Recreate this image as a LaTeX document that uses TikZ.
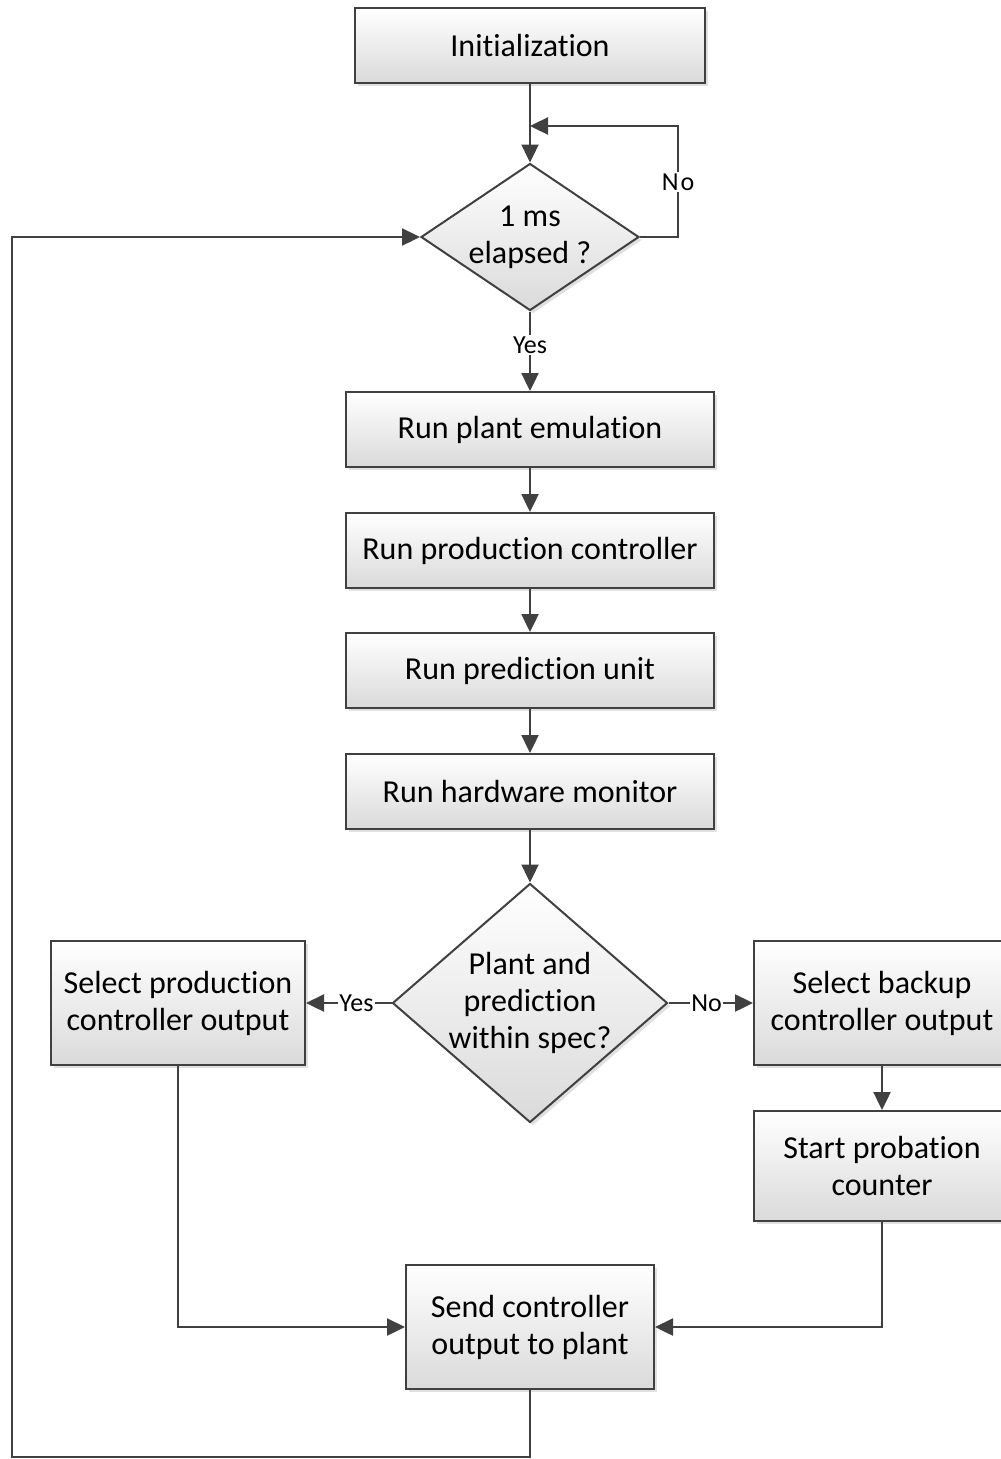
\documentclass[tikz,border=0pt]{standalone}
\usepackage{fontspec}
\setmainfont{Carlito}[RawFeature={-liga;-clig;-calt;-dlig}]
\usetikzlibrary{shapes.geometric,arrows.meta,shadows}
\definecolor{linegray}{RGB}{64,64,64}
\definecolor{boxgray}{RGB}{218,218,218}
\newcommand\boxfont{\fontsize{32}{37}\selectfont}
\newcommand\tagfont{\fontsize{26}{30}\selectfont}

\begin{document}
\begin{tikzpicture}[x=1pt,y=-1pt,
  line/.style={draw=linegray, line width=2.4pt},
  arr/.style={line, -{Triangle[length=18pt,width=17pt]}},
  shade3d/.style={draw=linegray, line width=2pt, top color=white, bottom color=boxgray,
    drop shadow={shadow xshift=3pt, shadow yshift=-3pt, fill=black, opacity=0.12}},
  box/.style={shade3d, rectangle, inner sep=0pt, align=center, font=\boxfont},
  dia/.style={shade3d, diamond, inner sep=0pt},
  diatext/.style={align=center, font=\boxfont},
  tag/.style={fill=white, inner sep=1.5pt, font=\tagfont}
]
\useasboundingbox (0,0) rectangle (1001,1459);

% process boxes
\node[box, minimum width=350pt, minimum height=75pt] (init) at (530,45.5) {Initialization};
\node[dia, minimum width=218pt, minimum height=147pt] (d1) at (530,237) {};
\node[diatext] (d1t) at (d1) {1 ms\\elapsed ?};
\node[box, minimum width=368pt, minimum height=75pt] (plant) at (530,429.5) {Run plant emulation};
\node[box, minimum width=368pt, minimum height=75pt] (prod) at (530,550.5) {Run production controller};
\node[box, minimum width=368pt, minimum height=75pt] (pred) at (530,670.5) {Run prediction unit};
\node[box, minimum width=368pt, minimum height=75pt] (hw) at (530,791.5) {Run hardware monitor};
\node[dia, minimum width=275pt, minimum height=239pt] (d2) at (530,1003) {};
\node[diatext] (d2t) at (d2) {Plant and\\prediction\\within spec?};
\node[box, minimum width=254pt, minimum height=124pt] (selp) at (178,1003) {Select production\\controller output};
\node[box, minimum width=256pt, minimum height=124pt] (selb) at (882,1003) {Select backup\\controller output};
\node[box, minimum width=256pt, minimum height=110pt] (prob) at (882,1166) {Start probation\\counter};
\node[box, minimum width=248pt, minimum height=124pt] (send) at (530,1327) {Send controller\\output to plant};

% connectors
\draw[arr] (init) -- (d1);
\coordinate (loopc) at (678,126);
\coordinate (loopend) at (530,126);
\draw[arr] (d1.east) -| (loopc) -- (loopend);
\node[tag] (no1) at (678,182) {N\kern2pt o};
\draw[arr] (d1) -- node[tag, pos=0.42] (yes1) {Yes} (plant);
\draw[arr] (plant) -- (prod);
\draw[arr] (prod) -- (pred);
\draw[arr] (pred) -- (hw);
\draw[arr] (hw) -- (d2);
\draw[arr] (d2.west) -- node[tag, pos=0.41] (yes2) {Yes} (selp.east);
\draw[arr] (d2.east) -- node[tag, pos=0.45] (no2) {No} (selb.west);
\draw[arr] (selb) -- (prob);
\draw[arr] (selp.south) |- (send.west);
\draw[arr] (prob.south) |- (send.east);
\coordinate (fbr) at (530,1457);
\coordinate (fbl) at (12,1457);
\draw[arr] (send.south) -- (fbr) -- (fbl) |- (d1.west);
\end{tikzpicture}
\end{document}
